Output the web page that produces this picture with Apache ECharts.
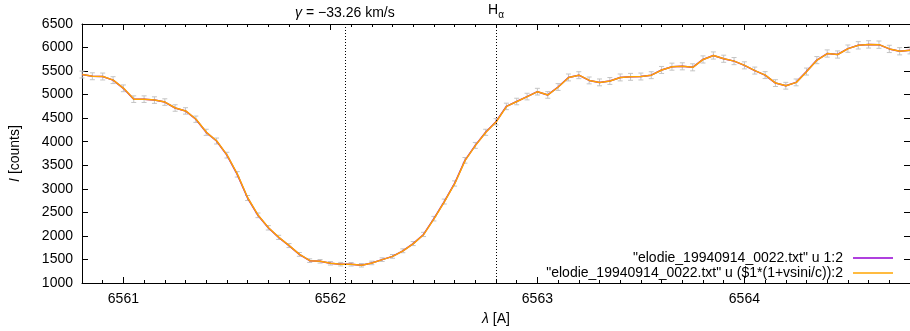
<!DOCTYPE html>
<html>
<head>
<meta charset="utf-8">
<script src="https://cdn.jsdelivr.net/npm/echarts@6/dist/echarts.min.js"></script>
<style>
  html, body { margin: 0; padding: 0; background: #fff; }
  #chart { width: 910px; height: 331px; }
</style>
</head>
<body>
<div id="chart"></div>
<script>
// wavelength grid of the spectrum (A), sampled every 0.05 A
const lambdaStart = 6560.80;
const lambdaStep = 0.05;
// counts
const counts = [
  5427, 5390, 5385, 5308, 5134, 4904, 4904, 4884, 4842, 4716,
  4654, 4478, 4200, 4015, 3715, 3307, 2805, 2437, 2172, 1969,
  1795, 1607, 1475, 1461, 1419, 1400, 1398, 1377, 1426, 1496,
  1565, 1684, 1837, 2031, 2366, 2730, 3113, 3605, 3922, 4200,
  4424, 4750, 4854, 4959, 5063, 4994, 5162, 5365, 5413, 5302,
  5260, 5290, 5365, 5378, 5385, 5413, 5524, 5594, 5601, 5580,
  5747, 5831, 5762, 5712, 5622, 5511, 5415, 5245, 5189, 5260,
  5490, 5733, 5873, 5852, 5977, 6047, 6067, 6061, 5971, 5921,
  5942
];
const majorTicks = [6561, 6562, 6563, 6564];
const yTicks = [1000, 1500, 2000, 2500, 3000, 3500, 4000, 4500, 5000, 5500, 6000, 6500];

const c = 299792.458;       // km/s
const vsini = 0.05;         // km/s
const vgamma = -33.26;      // km/s
const Halpha = 6562.80;
const gammaLambda = Halpha * (1 + vgamma / c);

const xMin = 6560.8, xMax = 6564.8;
const minorTicks = [];
for (let v = xMin; v <= xMax + 1e-9; v += 0.1) minorTicks.push(+v.toFixed(1));

const lambdas = counts.map((_, i) => +(lambdaStart + i * lambdaStep).toFixed(2));
const raw = lambdas.map((l, i) => [l, counts[i]]);
const shifted = lambdas.map((l, i) => [l * (1 + vsini / c), counts[i]]);
const errs = lambdas.map((l, i) => [l, counts[i], Math.sqrt(counts[i])]);

const name1 = '"elodie_19940914_0022.txt" u 1:2';
const name2 = '"elodie_19940914_0022.txt" u ($1*(1+vsini/c)):2';
const font = 'Liberation Sans';
const plain = v => String(v);

const chart = echarts.init(document.getElementById('chart'));

const xBase = {
  type: 'value', min: xMin, max: xMax,
  splitLine: { show: false },
  axisLine: { show: false },
  axisLabel: { show: false },
  axisTick: { inside: true, length: 3, lineStyle: { color: '#000' }, customValues: minorTicks }
};

chart.setOption({
  animation: false,
  textStyle: { fontFamily: font },
  grid: { left: 80, right: 0, top: 24, bottom: 44 },
  legend: {
    orient: 'vertical',
    align: 'right',
    right: 17,
    top: 251,
    padding: 0,
    itemGap: 1,
    itemWidth: 40,
    itemHeight: 1.5,
    icon: 'rect',
    textStyle: { fontSize: 14, color: '#000', fontFamily: font, padding: [0, 5, 0, 0] },
    data: [name1, name2]
  },
  xAxis: [
    {
      type: 'value', min: xMin, max: xMax, position: 'bottom',
      splitLine: { show: false },
      axisLine: { show: true, onZero: false, lineStyle: { color: '#000', width: 1 } },
      axisTick: { inside: true, length: 6, lineStyle: { color: '#000' }, customValues: majorTicks },
      axisLabel: { customValues: majorTicks, formatter: plain, color: '#000', fontSize: 14, margin: 9, fontFamily: font },
      name: '{i|λ} [A]', nameLocation: 'middle', nameGap: 29,
      nameTextStyle: { fontSize: 14, color: '#000', fontFamily: font, rich: { i: { fontStyle: 'italic', fontSize: 14, fontFamily: font } } }
    },
    Object.assign({}, xBase, { position: 'bottom' }),
    {
      type: 'value', min: xMin, max: xMax, position: 'top',
      splitLine: { show: false },
      axisLine: { show: true, onZero: false, lineStyle: { color: '#000', width: 1 } },
      axisTick: { inside: true, length: 6, lineStyle: { color: '#000' }, customValues: majorTicks },
      axisLabel: { show: false }
    },
    Object.assign({}, xBase, { position: 'top' })
  ],
  yAxis: [
    {
      type: 'value', min: 1000, max: 6500, interval: 500, position: 'left',
      splitLine: { show: false },
      axisLine: { show: true, onZero: false, lineStyle: { color: '#000', width: 1 } },
      axisTick: { inside: true, length: 6, lineStyle: { color: '#000' } },
      axisLabel: { customValues: yTicks, formatter: plain, color: '#000', fontSize: 14, margin: 9, fontFamily: font },
      name: '{i|I} [counts]', nameLocation: 'middle', nameGap: 60, nameRotate: 90,
      nameTextStyle: { fontSize: 14, color: '#000', fontFamily: font, rich: { i: { fontStyle: 'italic', fontSize: 14, fontFamily: font } } }
    },
    {
      type: 'value', min: 1000, max: 6500, interval: 500, position: 'right',
      splitLine: { show: false },
      axisLine: { show: true, onZero: false, lineStyle: { color: '#000', width: 1 } },
      axisTick: { inside: true, length: 6, lineStyle: { color: '#000' } },
      axisLabel: { show: false }
    }
  ],
  series: [
    {
      type: 'custom',
      name: 'errors',
      xAxisIndex: 0, yAxisIndex: 0,
      data: errs,
      z: 1,
      silent: true,
      renderItem: function (params, api) {
        const x = api.value(0), y = api.value(1), e = api.value(2);
        const top = api.coord([x, y + e]);
        const bot = api.coord([x, y - e]);
        const w = 2.5;
        const style = { stroke: '#c4c4c4', lineWidth: 1, fill: null };
        return {
          type: 'group',
          children: [
            { type: 'line', shape: { x1: top[0], y1: top[1], x2: bot[0], y2: bot[1] }, style: style },
            { type: 'line', shape: { x1: top[0] - w, y1: top[1], x2: top[0] + w, y2: top[1] }, style: style },
            { type: 'line', shape: { x1: bot[0] - w, y1: bot[1], x2: bot[0] + w, y2: bot[1] }, style: style }
          ]
        };
      }
    },
    {
      type: 'line',
      name: name1,
      xAxisIndex: 0, yAxisIndex: 0,
      data: raw,
      showSymbol: false,
      z: 2,
      color: '#9400d3',
      lineStyle: { color: '#9400d3', width: 1.5 },
      markLine: {
        silent: true,
        symbol: ['none', 'none'],
        lineStyle: { color: '#000', type: [1, 2], width: 1 },
        label: {
          position: 'end', distance: 4, color: '#000', fontSize: 14, fontFamily: font,
          rich: {
            g: { fontStyle: 'italic', fontSize: 14, fontFamily: font, color: '#000' },
            s: { fontSize: 10, fontFamily: font, color: '#000', padding: [9, 0, 0, 0] },
            n: { fontSize: 14, fontFamily: font, color: '#000' }
          }
        },
        data: [
          { xAxis: gammaLambda, label: { formatter: '{g|γ}{n| = \u2212' + Math.abs(vgamma).toFixed(2) + ' km/s}' } },
          { xAxis: Halpha, label: { formatter: '{n|H}{s|α}' } }
        ]
      }
    },
    {
      type: 'line',
      name: name2,
      xAxisIndex: 0, yAxisIndex: 0,
      data: shifted,
      showSymbol: false,
      z: 3,
      color: '#ffa500',
      lineStyle: { color: '#ffa500', width: 1.5 }
    }
  ]
});
</script>
</body>
</html>
